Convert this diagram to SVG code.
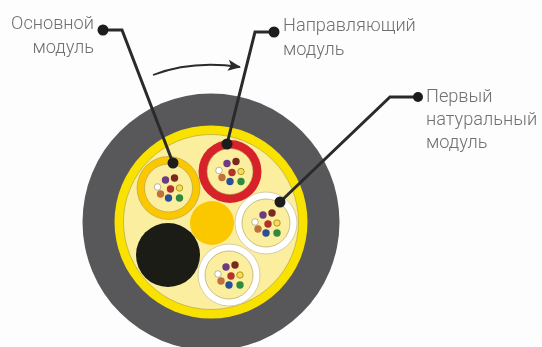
<svg xmlns="http://www.w3.org/2000/svg" width="542" height="347" viewBox="0 0 542 347">
<style>
.t{font-family:Roboto,"Liberation Sans",sans-serif;font-size:18.200px;fill:#707070;font-weight:300}
.e{text-anchor:end}
.l{fill:none;stroke:#2b2b2b;stroke-width:3;stroke-linejoin:miter}
.d{fill:#1d1d1b}
.in{fill:#fcee9f;stroke:#a89a50;stroke-width:.6}
.ow{fill:#fff;stroke:#c9c39a;stroke-width:.8}
</style>
<defs>
<filter id="b" x="-5%" y="-5%" width="110%" height="110%"><feGaussianBlur stdDeviation="0.45"/></filter>
<marker id="a" markerUnits="userSpaceOnUse" markerWidth="14" markerHeight="12" refX="12" refY="6" orient="auto"><path d="M0 0.5L13 6L0 11.500L3 6Z" fill="#2b2b2b"/></marker>
<g id="dots">
<circle cx="-3" cy="-8" r="3.700" fill="#6d3a86"/>
<circle cx="6" cy="-10" r="3.700" fill="#7a2a1c"/>
<circle cx="-11" cy="-1" r="3.300" fill="#fff" stroke="#8a8a70" stroke-width=".6"/>
<circle cx="2" cy="1" r="3.700" fill="#b5302a"/>
<circle cx="11" cy="0" r="3.200" fill="#f7dc5a" stroke="#b09a20" stroke-width="1"/>
<circle cx="-8" cy="6" r="3.700" fill="#c0703a"/>
<circle cx="0" cy="10" r="3.700" fill="#2a4f96"/>
<circle cx="11" cy="10" r="3.700" fill="#2f8a3c"/>
</g>
</defs>
<rect width="542" height="347" fill="#fdfdfd"/>
<g filter="url(#b)">
<g id="cable">
<circle cx="211" cy="222" r="128.500" fill="#58585a"/>
<circle cx="211" cy="222" r="96.500" fill="#f9e200"/>
<circle cx="211" cy="222" r="87.500" fill="#fcee9f" stroke="#a89a50" stroke-width=".6"/>
</g>
<g id="osnovnoi-modul">
<circle cx="168.500" cy="188" r="31.500" fill="#fbc800" stroke="#a89a50" stroke-width=".6"/>
<circle cx="168.500" cy="188" r="24" class="in"/>
<use href="#dots" x="168.500" y="188"/>
</g>
<g id="napravlyayushchii-modul">
<circle cx="230" cy="171.500" r="31.500" fill="#d8212a"/>
<circle cx="230" cy="171.500" r="23" class="in"/>
<use href="#dots" x="230" y="171.500"/>
</g>
<g id="pervyi-modul">
<circle cx="266" cy="223" r="31" class="ow"/>
<circle cx="266" cy="223" r="24" class="in"/>
<use href="#dots" x="266" y="223"/>
</g>
<g id="nizhnii-modul">
<circle cx="229" cy="275" r="31" class="ow"/>
<circle cx="229" cy="275" r="24" class="in"/>
<use href="#dots" x="229" y="275"/>
</g>
<g id="zolotoi-element"><circle cx="212" cy="223" r="22" fill="#fbc800"/></g>
<g id="chernyi-element"><circle cx="168" cy="255" r="32" fill="#1a1a12"/></g>
<g id="connectors">
<path class="l" d="M103 30H122L173 163"/>
<path class="l" d="M274 32H255L227 144"/>
<path class="l" d="M418 97H390L280 202"/>
<path d="M153 75Q192 60 240 67" fill="none" stroke="#2b2b2b" stroke-width="1.800" marker-end="url(#a)"/>
<circle class="d" cx="103" cy="30" r="5.500"/>
<circle class="d" cx="274" cy="32" r="5.500"/>
<circle class="d" cx="418" cy="97" r="5"/>
<circle class="d" cx="173" cy="163" r="5.500"/>
<circle class="d" cx="227" cy="144" r="5.500"/>
<circle class="d" cx="280" cy="202" r="5.500"/>
</g>
<g id="labels">
<text class="t e" x="94" y="29">Основной</text>
<text class="t e" x="94" y="53">модуль</text>
<text class="t" x="283" y="31">Направляющий</text>
<text class="t" x="283" y="55">модуль</text>
<text class="t" x="426" y="102">Первый</text>
<text class="t" x="426" y="125">натуральный</text>
<text class="t" x="426" y="148">модуль</text>
</g>
</g>
</svg>
